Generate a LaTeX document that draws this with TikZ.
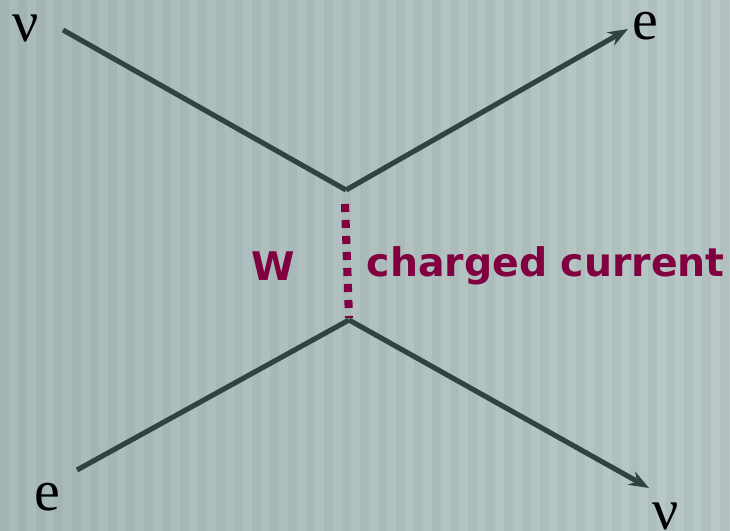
\documentclass[tikz,border=0pt]{standalone}
\usepackage{fontspec}
\setmainfont{Liberation Serif}
\newfontfamily\wfont{DejaVu Sans}
\usepackage{tikz}
\usetikzlibrary{arrows.meta,positioning}

\definecolor{slatebg}{RGB}{168,186,185}
\definecolor{slatebglight}{RGB}{184,200,199}
\definecolor{fermion}{RGB}{47,68,66}
\definecolor{boson}{RGB}{128,0,64}

\begin{document}
\begin{tikzpicture}[
    x=0.01cm, y=-0.01cm,
    particle/.style={
        font=\fontsize{16.5}{18}\selectfont,
        inner sep=0pt,
        anchor=base
    },
    wlabel/.style={
        font=\wfont\bfseries\fontsize{11.2}{13}\selectfont,
        text=boson,
        inner sep=0pt
    },
    line/.style={
        draw=fermion,
        line width=1.45pt
    },
    arrowline/.style={
        line,
        -{Stealth[length=0.2cm,width=0.15cm]}
    },
    wline/.style={
        draw=boson,
        line width=2.3pt,
        dash pattern=on 0.08cm off 0.08cm
    }
]

% background
\useasboundingbox (0,0) rectangle (730,531);
\shade[left color=slatebg, right color=slatebglight] (0,0) rectangle (730,531);
\foreach \x in {0,18,...,720}
    \fill[black, opacity=0.035] (\x,0) rectangle ++(9,531);

% vertices and free ends
\coordinate (top) at (346,190);
\coordinate (bottom) at (349,320);
\coordinate (nuin) at (63,30);
\coordinate (eout) at (628,29);
\coordinate (ein) at (77,470);
\coordinate (nuout) at (649,488);
\coordinate (wtop) at (345,204);
\coordinate (wbottom) at (349,318);

% labels
\node[particle] (nuinlabel) at (26,42) {ν};
\node[particle] (eoutlabel) at (645,40) {e};
\node[particle] (einlabel) at (47,511) {e};
\node[particle] (nuoutlabel) at (666,530) {ν};
\node[wlabel] (wname) at (273,266) {W};
\node[wlabel, anchor=west] (cc) at (366,266) {charged current};

% lines
\draw[line] (nuin) -- (top);
\draw[arrowline] (top) -- (eout);
\draw[line] (ein) -- (bottom);
\draw[arrowline] (bottom) -- (nuout);
\draw[wline] (wtop) -- (wbottom);

\end{tikzpicture}
\end{document}
